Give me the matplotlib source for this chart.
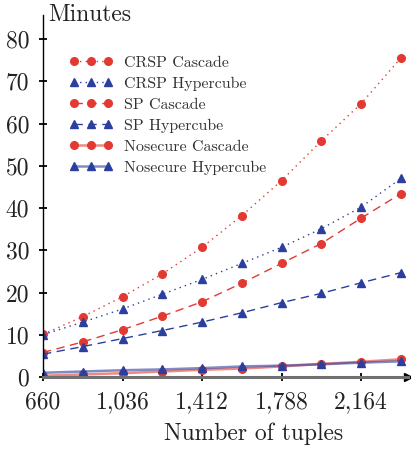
import matplotlib
matplotlib.use("Agg")
import matplotlib.pyplot as plt

plt.rcParams["font.family"] = "cmr10"
plt.rcParams["mathtext.fontset"] = "cm"
plt.rcParams["axes.unicode_minus"] = False

# data
tuples = [660, 848, 1036, 1224, 1412, 1600, 1788, 1976, 2164, 2352]
crsp_cascade = [10.1, 14.3, 19.0, 24.4, 30.7, 38.2, 46.5, 55.9, 64.7, 75.5]
crsp_hypercube = [10.0, 13.0, 16.1, 19.6, 23.1, 26.9, 30.7, 35.1, 40.2, 47.0]
sp_cascade = [5.8, 8.3, 11.2, 14.4, 17.8, 22.2, 26.9, 31.6, 37.6, 43.4]
sp_hypercube = [5.4, 7.2, 9.1, 11.0, 13.0, 15.2, 17.6, 19.8, 22.3, 24.7]
nosecure_cascade = [0.3, 0.6, 0.9, 1.3, 1.7, 2.0, 2.5, 3.1, 3.6, 4.2]
nosecure_hypercube = [1.0, 1.3, 1.6, 1.8, 2.1, 2.5, 2.7, 3.0, 3.4, 3.7]

xticks = [660, 1036, 1412, 1788, 2164]
xtick_labels = ["660", "1,036", "1,412", "1,788", "2,164"]
yticks = [0, 10, 20, 30, 40, 50, 60, 70, 80]

red = "#e23a33"
blue = "#2b3f9e"
red_light = (0.89, 0.23, 0.2, 0.6)
blue_light = (0.17, 0.25, 0.62, 0.6)

fig = plt.figure(figsize=(4.11, 4.5), dpi=100)
ax = fig.add_axes([43 / 411, 1 - 377 / 450, 365 / 411, 362 / 450])

ms = 5.5
ax.plot(tuples, crsp_cascade, color=red, ls=(0, (1, 3)), lw=1.0,
        marker="o", ms=ms, label="CRSP Cascade")
ax.plot(tuples, crsp_hypercube, color=blue, ls=(0, (1, 3)), lw=1.0,
        marker="^", ms=ms, label="CRSP Hypercube")
ax.plot(tuples, sp_cascade, color=red, ls=(0, (6, 4)), lw=1.0,
        marker="o", ms=ms, label="SP Cascade")
ax.plot(tuples, sp_hypercube, color=blue, ls=(0, (6, 4)), lw=1.0,
        marker="^", ms=ms, label="SP Hypercube")
ax.plot(tuples, nosecure_cascade, color=red_light, ls="-", lw=1.8,
        marker="o", ms=ms, mfc=red, mec=red, label="Nosecure Cascade")
ax.plot(tuples, nosecure_hypercube, color=blue_light, ls="-", lw=1.8,
        marker="^", ms=ms, mfc=blue, mec=blue, label="Nosecure Hypercube")

ax.set_xlim(660, 2386)
ax.set_ylim(0, 85.7)
ax.set_xticks(xticks)
ax.set_xticklabels(xtick_labels)
ax.set_yticks(yticks)
ax.tick_params(direction="inout", length=6, width=1.3, labelsize=17, pad=7,
               labelcolor="#222222")

ax.spines["top"].set_visible(False)
ax.spines["right"].set_visible(False)
ax.spines["left"].set_linewidth(1.0)
ax.spines["bottom"].set_linewidth(2.2)
ax.spines["bottom"].set_color("#707070")
# arrow heads
ax.plot(1, 0, ">k", ms=6, transform=ax.get_yaxis_transform(), clip_on=False)
ax.plot(0, 1, "^k", ms=6, transform=ax.get_xaxis_transform(), clip_on=False)

ax.text(0.013, 1.0, "Minutes", transform=ax.transAxes, fontsize=17,
        ha="left", va="center", color="#222222")
fig.text(254 / 411, 1 - 434 / 450, "Number of tuples", fontsize=17,
         ha="center", va="center", color="#222222")

leg = ax.legend(loc="upper left", bbox_to_anchor=(0.072, 0.888), frameon=False,
                fontsize=11.5, numpoints=3, handlelength=2.7,
                handletextpad=0.75, labelspacing=0.43, borderpad=0,
                borderaxespad=0)
for t in leg.get_texts():
    t.set_color("#333333")

fig.savefig("out.png", dpi=100)
